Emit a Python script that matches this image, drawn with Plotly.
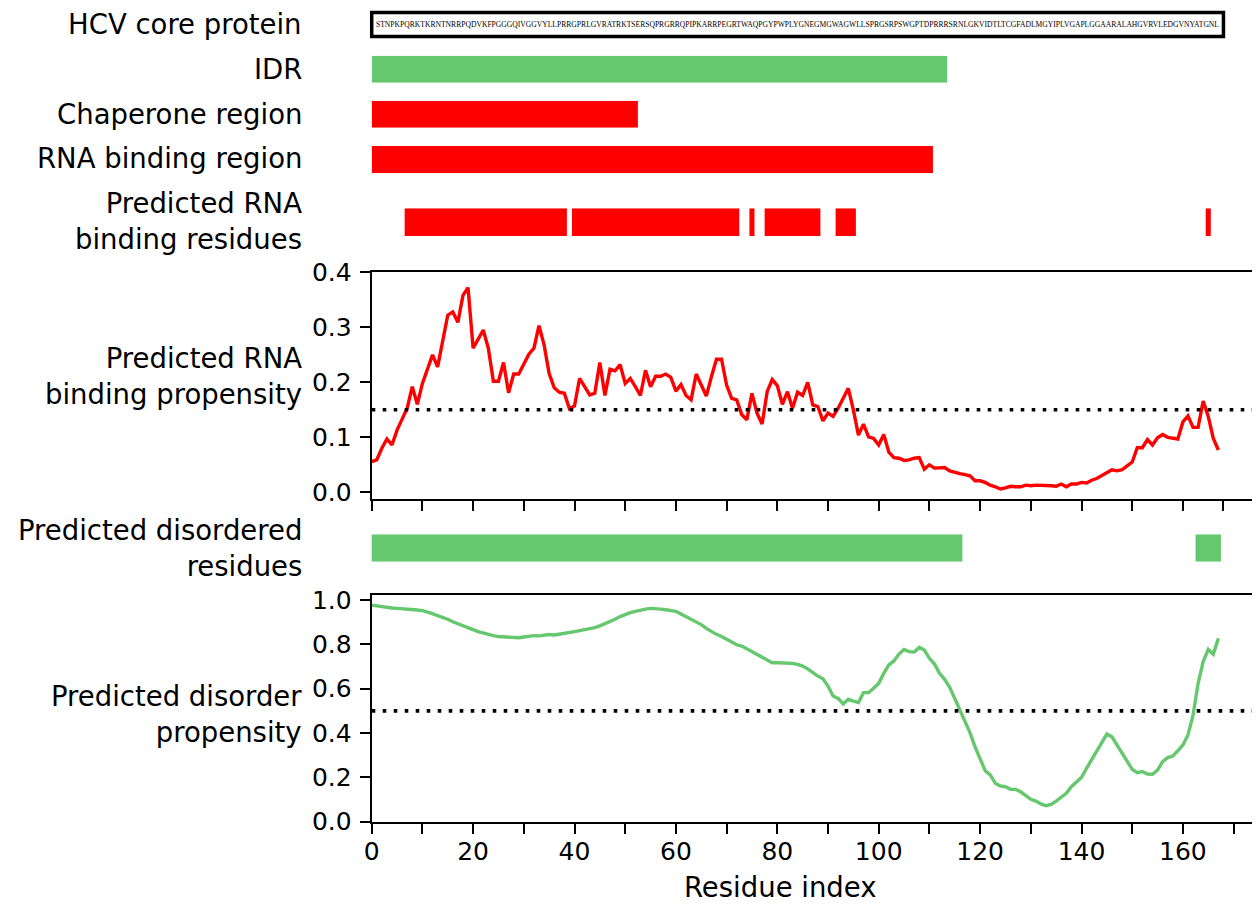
import plotly.graph_objects as go

# ---------------- data ----------------
sequence = ("STNPKPQRKTKRNTNRRPQDVKFPGGGQIVGGVYLLPRRGPRLGVRATRKTSERSQPRGRRQPIPKARRPEGRTWAQPGY"
            "PWPLYGNEGMGWAGWLLSPRGSRPSWGPTDPRRRSRNLGKVIDTLTCGFADLMGYIPLVGAPLGGAARALAHGVRVLEDGVNYATGNL")

region_labels = ["IDR", "Chaperone region", "RNA binding region"]
region_starts = [0, 0, 0]
region_ends = [113.5, 52.5, 110.7]
region_colors = ["#66C86E", "#FF0000", "#FF0000"]

binding_seg_start = [7, 40, 75, 78, 92, 165]
binding_seg_end = [38, 72, 75, 88, 95, 165]

disorder_seg_start = [0, 163]
disorder_seg_end = [116, 167]

rna_propensity = [
    .056, .059, .080, .097, .086, .113, .133, .153, .192, .160,
    .198, .225, .250, .228, .274, .322, .328, .309, .358, .372,
    .262, .279, .295, .262, .202, .202, .236, .181, .215, .215,
    .233, .251, .262, .303, .268, .216, .190, .182, .180, .152,
    .157, .207, .192, .177, .180, .236, .176, .224, .221, .232,
    .198, .207, .192, .176, .222, .192, .211, .211, .215, .209,
    .184, .196, .176, .168, .215, .194, .175, .210, .242, .242,
    .195, .171, .168, .141, .132, .180, .144, .124, .183, .205,
    .194, .160, .183, .153, .182, .176, .200, .159, .156, .130,
    .144, .138, .153, .171, .189, .150, .104, .124, .101, .098,
    .086, .105, .073, .063, .062, .058, .059, .062, .063, .042,
    .050, .044, .044, .045, .039, .036, .034, .032, .030, .021,
    .021, .018, .013, .010, .006, .008, .011, .010, .010, .013,
    .012, .013, .013, .013, .012, .011, .015, .010, .015, .015,
    .018, .017, .022, .025, .030, .035, .041, .039, .041, .048,
    .055, .081, .081, .096, .086, .099, .105, .100, .098, .097,
    .128, .139, .118, .118, .166, .138, .098, .077,
]

disorder_propensity = [
    .977, .973, .970, .967, .964, .962, .961, .959, .958, .955,
    .952, .946, .938, .929, .922, .913, .902, .892, .883, .874,
    .866, .857, .850, .844, .839, .835, .833, .832, .830, .830,
    .833, .836, .839, .838, .841, .844, .842, .845, .850, .854,
    .857, .862, .866, .872, .875, .883, .892, .902, .913, .925,
    .935, .943, .949, .955, .959, .962, .962, .959, .956, .952,
    .949, .937, .925, .916, .904, .889, .872, .857, .845, .835,
    .823, .811, .798, .792, .780, .765, .752, .743, .732, .717,
    .717, .717, .716, .714, .710, .702, .689, .672, .657, .645,
    .612, .567, .556, .531, .552, .544, .538, .582, .582, .602,
    .624, .669, .707, .725, .756, .777, .767, .765, .786, .774,
    .737, .711, .669, .642, .606, .556, .504, .454, .402, .338,
    .281, .230, .211, .173, .161, .158, .146, .146, .135, .116,
    .101, .093, .080, .072, .078, .093, .110, .128, .158, .180,
    .200, .241, .281, .320, .361, .395, .383, .346, .308, .271,
    .236, .221, .226, .215, .214, .233, .271, .289, .296, .320,
    .346, .391, .481, .624, .722, .777, .756, .827,
]

rna_threshold = 0.15
disorder_threshold = 0.5
x_ticks = [0, 20, 40, 60, 80, 100, 120, 140, 160]
rna_y_ticks = [0.0, 0.1, 0.2, 0.3, 0.4]
dis_y_ticks = [0.0, 0.2, 0.4, 0.6, 0.8, 1.0]

# ---------------- layout helpers ----------------
OFF = 8                      # page body margin in the browser
W, H = 1260 - OFF, 905 - OFF
RED = "#FF0000"
GREEN = "#66C86E"
FONT = "DejaVu Sans"
X0_PX = 371.7                # screen x of residue 0
PX_PER_UNIT = 5.07
XMAX = (1260 - X0_PX) / PX_PER_UNIT
XR = [0, XMAX]
TICK_FS = 25
LABEL_FS = 27.5
LW = 3.4


def clamp(v):
    return min(1.0, max(0.0, v))


def px_x(px):
    return clamp((px - OFF) / W)


def py(px):
    return clamp(1 - (px - OFF) / H)


def dom(top, bottom):
    return [py(bottom), py(top)]


xdom = [px_x(X0_PX), 1.0]
residues = list(range(len(rna_propensity)))

fig = go.Figure()

# sequence box (row 2)
fig.add_trace(go.Bar(x=[len(sequence)], base=[0], y=[0], width=1, orientation="h",
                     marker=dict(color="white", line=dict(color="black", width=3.5)),
                     xaxis="x2", yaxis="y2", hoverinfo="skip"))
# region bars (rows 3-5)
for k in range(len(region_labels)):
    fig.add_trace(go.Bar(x=[region_ends[k] - region_starts[k]], base=[region_starts[k]], y=[0],
                         width=1, orientation="h",
                         marker=dict(color=region_colors[k], line=dict(width=0)),
                         xaxis="x%d" % (k + 3), yaxis="y%d" % (k + 3), hoverinfo="skip"))
# predicted RNA binding residues (row 6)
fig.add_trace(go.Bar(x=[e - s + 1 for s, e in zip(binding_seg_start, binding_seg_end)],
                     base=[s - 0.5 for s in binding_seg_start],
                     y=[0] * len(binding_seg_start), width=1, orientation="h",
                     marker=dict(color=RED, line=dict(width=0)),
                     xaxis="x6", yaxis="y6", hoverinfo="skip"))
# RNA propensity (row 7)
fig.add_trace(go.Scatter(x=residues, y=rna_propensity, mode="lines",
                         line=dict(color=RED, width=LW), xaxis="x7", yaxis="y7"))
fig.add_trace(go.Scatter(x=XR, y=[rna_threshold, rna_threshold], mode="lines",
                         line=dict(color="black", width=3.6, dash="3.6px,7.4px"),
                         xaxis="x7", yaxis="y7"))
# predicted disordered residues (row 8)
fig.add_trace(go.Bar(x=[e - s + 1 for s, e in zip(disorder_seg_start, disorder_seg_end)],
                     base=[s - 0.5 for s in disorder_seg_start],
                     y=[0] * len(disorder_seg_start), width=1, orientation="h",
                     marker=dict(color=GREEN, line=dict(width=0)),
                     xaxis="x8", yaxis="y8", hoverinfo="skip"))
# disorder propensity (main axes)
fig.add_trace(go.Scatter(x=residues, y=disorder_propensity, mode="lines",
                         line=dict(color=GREEN, width=LW), xaxis="x", yaxis="y"))
fig.add_trace(go.Scatter(x=XR, y=[disorder_threshold, disorder_threshold], mode="lines",
                         line=dict(color="black", width=3.6, dash="3.6px,7.4px"),
                         xaxis="x", yaxis="y"))

layout = dict(
    width=W, height=H, margin=dict(l=0, r=0, t=0, b=0, pad=0, autoexpand=False),
    paper_bgcolor="white", plot_bgcolor="white", showlegend=False,
    barmode="overlay", font=dict(family=FONT, color="black", size=TICK_FS),
)

hidden = dict(visible=False, showgrid=False, zeroline=False, automargin=False)
row_px = {
    3: (55.7, 82.7),
    4: (100.7, 127.7),
    5: (146.0, 173.3),
    6: (208.3, 236.0),
    8: (534.3, 561.7),
}
for n, (t, b) in row_px.items():
    layout["xaxis%d" % n] = dict(hidden, domain=xdom, range=XR, anchor="y%d" % n)
    layout["yaxis%d" % n] = dict(hidden, domain=dom(t, b), range=[-0.5, 0.5], anchor="x%d" % n)

# sequence row: padded plot area so the box outline is not clipped
pad_x = 6.0
layout["xaxis2"] = dict(hidden, domain=[px_x(X0_PX - pad_x), 1.0],
                        range=[-pad_x / PX_PER_UNIT, XMAX], anchor="y2")
box_top, box_bot, pad_y = 12.5, 36.5, 3.5
half = 0.5 * (box_bot - box_top + 2 * pad_y) / (box_bot - box_top)
layout["yaxis2"] = dict(hidden, domain=dom(box_top - pad_y, box_bot + pad_y),
                        range=[-half, half], anchor="x2")

axis_style = dict(showline=True, linecolor="black", linewidth=2, ticks="outside",
                  ticklen=10, tickwidth=2, tickcolor="black", showgrid=False, zeroline=False,
                  automargin=False,
                  tickfont=dict(family=FONT, size=TICK_FS, color="black"))

# RNA propensity axes
layout["xaxis7"] = dict(axis_style, domain=xdom, range=XR, anchor="y7", mirror=True,
                        tickvals=list(range(0, 161, 10)) + [168], showticklabels=False)
layout["yaxis7"] = dict(axis_style, domain=dom(272.3, 499.3), range=[-0.0127, 0.4],
                        anchor="x7", tickvals=rna_y_ticks, tickformat=".1f",
                        ticklabelstandoff=3)
# disorder axes
layout["xaxis"] = dict(axis_style, domain=xdom, range=XR, anchor="y", mirror=True,
                       tickvals=list(range(0, 171, 10)),
                       ticktext=[str(v) if v in x_ticks else "" for v in range(0, 171, 10)],
                       ticklabelstandoff=-4)
layout["yaxis"] = dict(axis_style, domain=dom(595.1, 821.7), range=[0, 1.022], anchor="x",
                       tickvals=dis_y_ticks, tickformat=".1f", ticklabelstandoff=3)

fig.update_layout(**layout)

# sequence text
fig.add_annotation(x=len(sequence) / 2, y=0, xref="x2", yref="y2", text=sequence,
                   showarrow=False, font=dict(family="Liberation Serif", size=7.6, color="black"))

# x axis title
fig.add_annotation(x=px_x(780), y=py(887), xref="paper", yref="paper",
                   text="Residue index", showarrow=False, xanchor="center", yanchor="middle",
                   font=dict(family=FONT, size=LABEL_FS, color="black"))

# left-hand row labels
labels = [
    ("HCV core protein", 24),
    ("IDR", 69),
    ("Chaperone region", 114),
    ("RNA binding region", 158),
    ("Predicted RNA<br>binding residues", 221),
    ("Predicted RNA<br>binding propensity", 376),
    ("Predicted disordered<br>residues", 548),
    ("Predicted disorder<br>propensity", 714),
]
for txt, ypx in labels:
    fig.add_annotation(x=px_x(304), y=py(ypx), xref="paper", yref="paper", text=txt,
                       showarrow=False, xanchor="right", yanchor="middle", align="right",
                       font=dict(family=FONT, size=LABEL_FS, color="black"))

fig.write_html("out.html")
